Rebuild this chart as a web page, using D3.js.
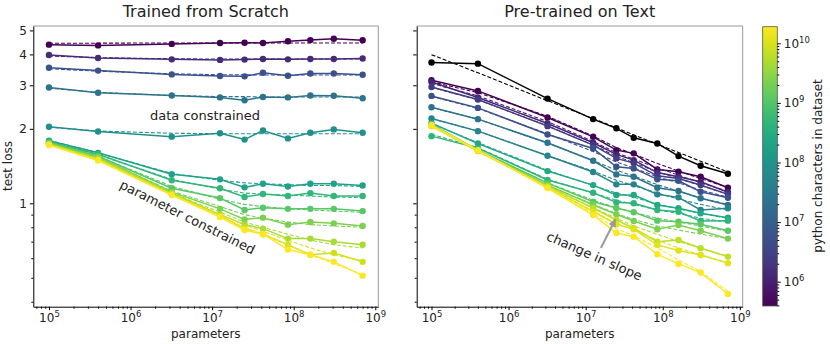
<!DOCTYPE html>
<html>
<head>
<meta charset="utf-8">
<script src="https://cdn.jsdelivr.net/npm/d3@7"></script>
<style>
  body { margin: 0; background: #fff; }
  text { font-family: "DejaVu Sans", sans-serif; fill: #222; }
</style>
</head>
<body>
<svg id="chart" width="830" height="344"></svg>
<script>
// model sizes (x axis), shared by both panels
const params = [1e5, 4e5, 3.2e6, 1.25e7, 2.5e7, 4.2e7, 8.5e7, 1.6e8, 3.1e8, 7e8];

// left panel: trained from scratch
const scratchChars = [3.9e5, 1.43e6, 5.8e6, 2.4e7, 8.6e7, 2.0e8, 4.8e8, 1.15e9, 2.2e9, 4.7e9, 8.9e9, 1.9e10];
const scratchLoss = [
  [4.38, 4.35, 4.41, 4.45, 4.46, 4.45, 4.52, 4.57, 4.63, 4.56],
  [3.98, 3.87, 3.82, 3.80, 3.81, 3.83, 3.82, 3.83, 3.83, 3.85],
  [3.53, 3.44, 3.32, 3.27, 3.26, 3.37, 3.28, 3.35, 3.35, 3.31],
  [2.94, 2.80, 2.73, 2.68, 2.61, 2.69, 2.68, 2.73, 2.72, 2.66],
  [2.04, 1.95, 1.86, 1.92, 1.81, 1.97, 1.83, 1.93, 1.99, 1.93],
  [1.79, 1.60, 1.31, 1.25, 1.16, 1.20, 1.17, 1.20, 1.20, 1.18],
  [1.77, 1.58, 1.24, 1.15, 1.06, 1.09, 1.07, 1.10, 1.07, 1.07],
  [1.76, 1.55, 1.15, 1.05, 0.94, 0.96, 0.95, 0.95, 0.95, 0.93],
  [1.75, 1.54, 1.11, 0.95, 0.86, 0.875, 0.82, 0.84, 0.83, 0.81],
  [1.735, 1.52, 1.10, 0.90, 0.82, 0.79, 0.72, 0.72, 0.70, 0.68],
  [1.73, 1.505, 1.09, 0.89, 0.79, 0.75, 0.68, 0.62, 0.63, 0.58],
  [1.72, 1.49, 1.08, 0.88, 0.78, 0.75, 0.65, 0.62, 0.58, 0.51]
];
const scratchFit = [
  [4.44, 4.44, 4.45, 4.45, 4.45, 4.45, 4.45, 4.45, 4.45, 4.45],
  [3.94, 3.88, 3.84, 3.83, 3.83, 3.83, 3.83, 3.83, 3.83, 3.83],
  [3.50, 3.42, 3.34, 3.31, 3.31, 3.30, 3.30, 3.30, 3.30, 3.30],
  [2.92, 2.81, 2.73, 2.70, 2.70, 2.69, 2.69, 2.69, 2.69, 2.69],
  [2.03, 1.96, 1.92, 1.91, 1.91, 1.91, 1.91, 1.91, 1.91, 1.91],
  [1.80, 1.60, 1.32, 1.24, 1.21, 1.20, 1.19, 1.18, 1.18, 1.17],
  [1.78, 1.57, 1.25, 1.14, 1.10, 1.09, 1.08, 1.07, 1.06, 1.055],
  [1.77, 1.55, 1.17, 1.04, 0.99, 0.97, 0.95, 0.94, 0.93, 0.92],
  [1.76, 1.53, 1.12, 0.97, 0.90, 0.87, 0.84, 0.82, 0.81, 0.80],
  [1.74, 1.51, 1.10, 0.92, 0.84, 0.80, 0.75, 0.71, 0.68, 0.66],
  [1.73, 1.50, 1.09, 0.90, 0.82, 0.77, 0.71, 0.66, 0.62, 0.585],
  [1.72, 1.49, 1.08, 0.89, 0.80, 0.75, 0.68, 0.62, 0.57, 0.515]
];

// right panel: pre-trained on text
const textChars = [3.9e5, 1.15e6, 2.5e6, 5.8e6, 2.4e7, 5.0e7, 2.5e8, 4.3e8, 1.26e9, 2.2e9, 6.5e9, 1.1e10, 1.9e10];
const textLoss = [
  [3.146, 2.847, 2.223, 1.857, 1.641, 1.592, 1.371, 1.341, 1.28, 1.156],
  [3.095, 2.678, 2.103, 1.757, 1.577, 1.495, 1.331, 1.28, 1.222, 1.108],
  [2.954, 2.629, 2.051, 1.719, 1.519, 1.454, 1.292, 1.259, 1.185, 1.087],
  [2.718, 2.431, 1.898, 1.667, 1.405, 1.384, 1.25, 1.234, 1.114, 1.053],
  [2.447, 2.189, 1.757, 1.486, 1.309, 1.28, 1.156, 1.121, 1.048, 0.984],
  [2.203, 1.958, 1.556, 1.338, 1.193, 1.193, 1.087, 1.057, 0.94, 0.955],
  [2.109, 1.746, 1.35, 1.185, 1.08, 1.08, 0.984, 0.955, 0.911, 0.875],
  [1.869, 1.672, 1.242, 1.104, 1.009, 1.0, 0.94, 0.925, 0.848, 0.851],
  [2.089, 1.641, 1.207, 1.015, 0.957, 0.92, 0.851, 0.843, 0.823, 0.775],
  [2.07, 1.641, 1.185, 0.984, 0.903, 0.848, 0.785, 0.817, 0.775, 0.72],
  [2.07, 1.626, 1.174, 0.955, 0.856, 0.793, 0.70, 0.711, 0.658, 0.609],
  [2.051, 1.626, 1.163, 0.925, 0.823, 0.785, 0.679, 0.644, 0.618, 0.573],
  [2.07, 1.641, 1.153, 0.897, 0.759, 0.733, 0.623, 0.569, 0.525, 0.43]
];
const textFit = [
  [3.10, 2.80, 2.25, 1.87, 1.68, 1.58, 1.45, 1.35, 1.26, 1.16],
  [3.05, 2.72, 2.14, 1.78, 1.60, 1.51, 1.39, 1.30, 1.21, 1.12],
  [2.94, 2.62, 2.06, 1.72, 1.55, 1.46, 1.34, 1.26, 1.18, 1.09],
  [2.70, 2.42, 1.91, 1.62, 1.47, 1.39, 1.28, 1.21, 1.13, 1.06],
  [2.44, 2.19, 1.75, 1.49, 1.36, 1.29, 1.19, 1.12, 1.05, 0.99],
  [2.20, 1.96, 1.56, 1.35, 1.24, 1.18, 1.10, 1.04, 0.99, 0.94],
  [2.10, 1.76, 1.36, 1.18, 1.10, 1.06, 0.99, 0.95, 0.91, 0.87],
  [1.90, 1.68, 1.25, 1.10, 1.03, 0.99, 0.94, 0.91, 0.87, 0.84],
  [2.08, 1.64, 1.21, 1.03, 0.96, 0.92, 0.87, 0.84, 0.81, 0.77],
  [2.06, 1.63, 1.18, 0.99, 0.91, 0.86, 0.81, 0.78, 0.75, 0.72],
  [2.06, 1.62, 1.17, 0.96, 0.87, 0.81, 0.75, 0.70, 0.66, 0.61],
  [2.05, 1.62, 1.16, 0.93, 0.83, 0.78, 0.71, 0.66, 0.62, 0.575],
  [2.06, 1.63, 1.15, 0.91, 0.79, 0.74, 0.66, 0.59, 0.53, 0.44]
];
// black curve: text-only (zero-shot) loss
const textOnlyLoss = [3.71, 3.67, 2.65, 2.19, 2.01, 1.84, 1.746, 1.552, 1.418, 1.317];
const textOnlyFit = [3.99, 3.37, 2.60, 2.20, 2.02, 1.89, 1.735, 1.605, 1.48, 1.338];

// ticks
const xMajor = [1e5, 1e6, 1e7, 1e8, 1e9];
const yMajor = [1, 2, 3, 4, 5];
const yMinor = [0.4, 0.5, 0.6, 0.7, 0.8, 0.9];
const cbarMajor = [1e6, 1e7, 1e8, 1e9, 1e10];

const svg = d3.select('#chart');
const axTop = 26, axBottom = 306.7;
const xDomain = [Math.pow(10, 4.808), Math.pow(10, 9.037)];
const y = d3.scaleLog().domain([0.382, 5.21]).range([axBottom, axTop]);
const cDomain = [Math.pow(10, 5.592), Math.pow(10, 10.279)];
const cNorm = d3.scaleLog().domain(cDomain).range([0, 1]);
const color = d => d3.interpolateViridis(cNorm(d));
const defs = svg.append('defs');

function minorTicks(domain) {
  const out = [];
  for (let e = Math.floor(Math.log10(domain[0])); e <= Math.ceil(Math.log10(domain[1])); e++) {
    for (let m = 2; m <= 9; m++) {
      const v = m * Math.pow(10, e);
      if (v >= domain[0] && v <= domain[1]) out.push(v);
    }
  }
  return out;
}

function supLabel(sel, size) {
  sel.selectAll('.tick text').each(function(d) {
    const t = d3.select(this).text(null);
    t.append('tspan').text('10');
    t.append('tspan').attr('dy', -5).attr('font-size', size).text(Math.round(Math.log10(d)));
  });
}

function panel(x0, x1, title, showYLabels) {
  const x = d3.scaleLog().domain(xDomain).range([x0, x1]);

  // spines
  svg.append('line').attr('x1', x0).attr('x2', x1).attr('y1', axTop).attr('y2', axTop)
    .attr('stroke', '#999').attr('stroke-width', 1);
  svg.append('line').attr('x1', x1).attr('x2', x1).attr('y1', axTop).attr('y2', axBottom)
    .attr('stroke', '#999').attr('stroke-width', 1);

  // x axis
  svg.append('g').attr('transform', `translate(0,${axBottom})`)
    .call(d3.axisBottom(x).tickValues(minorTicks(xDomain)).tickSize(2).tickFormat('').tickSizeOuter(0))
    .call(g => g.select('.domain').remove());
  const gx = svg.append('g').attr('transform', `translate(0,${axBottom})`)
    .call(d3.axisBottom(x).tickValues(xMajor).tickSize(3.5).tickPadding(3).tickSizeOuter(0));
  gx.selectAll('.tick text').attr('font-size', 12).attr('font-family', 'DejaVu Sans');
  supLabel(gx, 8.5);

  // y axis
  svg.append('g').attr('transform', `translate(${x0},0)`)
    .call(d3.axisLeft(y).tickValues(yMinor).tickSize(2).tickFormat('').tickSizeOuter(0))
    .call(g => g.select('.domain').remove());
  const gy = svg.append('g').attr('transform', `translate(${x0},0)`)
    .call(d3.axisLeft(y).tickValues(yMajor).tickSize(3.5).tickPadding(3)
      .tickFormat(showYLabels ? d3.format('d') : '').tickSizeOuter(0));
  gy.selectAll('.tick text').attr('font-size', 12).attr('font-family', 'DejaVu Sans');

  svg.append('text').attr('x', (x0 + x1) / 2).attr('y', 17).attr('text-anchor', 'middle')
    .attr('font-size', 16).text(title);
  svg.append('text').attr('x', (x0 + x1) / 2).attr('y', 338).attr('text-anchor', 'middle')
    .attr('font-size', 12).text('parameters');
  return x;
}

function drawSeries(x, values, fit, stroke) {
  const line = d3.line().x((d, i) => x(params[i])).y(d => y(d));
  svg.append('path').datum(fit).attr('d', line).attr('fill', 'none')
    .attr('stroke', stroke).attr('stroke-width', 1.1).attr('stroke-dasharray', '4,2');
  svg.append('path').datum(values).attr('d', line).attr('fill', 'none')
    .attr('stroke', stroke).attr('stroke-width', 1.5);
  svg.append('g').selectAll('circle').data(values).join('circle')
    .attr('cx', (d, i) => x(params[i])).attr('cy', d => y(d)).attr('r', 3.2)
    .attr('fill', stroke);
}

// left panel
const xL = panel(33.3, 378.3, 'Trained from Scratch', true);
scratchLoss.forEach((s, k) => drawSeries(xL, s, scratchFit[k], color(scratchChars[k])));

svg.append('text').attr('transform', 'translate(12,166) rotate(-90)').attr('text-anchor', 'middle')
  .attr('font-size', 12).text('test loss');
svg.append('text').attr('x', 205).attr('y', 120).attr('text-anchor', 'middle')
  .attr('font-size', 13).attr('fill', '#333').text('data constrained');
svg.append('text').attr('transform', 'translate(187,218) rotate(26.6)').attr('text-anchor', 'middle')
  .attr('dominant-baseline', 'middle').attr('font-size', 13).attr('fill', '#333').text('parameter constrained');

// right panel
const xR = panel(416.7, 742.7, 'Pre-trained on Text', false);
textLoss.forEach((s, k) => drawSeries(xR, s, textFit[k], color(textChars[k])));
drawSeries(xR, textOnlyLoss, textOnlyFit, '#000');

// change in slope annotation
defs.append('marker').attr('id', 'arrow').attr('viewBox', '0 0 10 10')
  .attr('refX', 9).attr('refY', 5).attr('markerWidth', 4).attr('markerHeight', 4).attr('orient', 'auto')
  .append('path').attr('d', 'M0,0 L10,5 L0,10 z').attr('fill', '#9a9a9a');
svg.append('line').attr('x1', xR(1.6e7) - 0.5).attr('y1', 248).attr('x2', xR(2.5e7) - 1).attr('y2', y(0.86))
  .attr('stroke', '#9a9a9a').attr('stroke-width', 2).attr('marker-end', 'url(#arrow)');
svg.append('text').attr('transform', 'translate(594,257) rotate(23.6)').attr('text-anchor', 'middle')
  .attr('dominant-baseline', 'middle').attr('font-size', 13).attr('fill', '#333').text('change in slope');

// colorbar
const cb = { x: 762.7, w: 14.6 };
const cy = d3.scaleLog().domain(cDomain).range([306, 26.7]);
const grad = defs.append('linearGradient').attr('id', 'viridis')
  .attr('x1', 0).attr('y1', 1).attr('x2', 0).attr('y2', 0);
d3.range(0, 1.0001, 0.05).forEach(t => grad.append('stop').attr('offset', t).attr('stop-color', d3.interpolateViridis(t)));
svg.append('rect').attr('x', cb.x).attr('y', 26.7).attr('width', cb.w).attr('height', 306 - 26.7)
  .attr('fill', 'url(#viridis)').attr('stroke', '#555').attr('stroke-width', 0.8);
svg.append('g').attr('transform', `translate(${cb.x + cb.w},0)`)
  .call(d3.axisRight(cy).tickValues(minorTicks(cDomain)).tickSize(2).tickFormat('').tickSizeOuter(0))
  .call(g => g.select('.domain').remove());
const gc = svg.append('g').attr('transform', `translate(${cb.x + cb.w},0)`)
  .call(d3.axisRight(cy).tickValues(cbarMajor).tickSize(3.5).tickPadding(3).tickSizeOuter(0))
  .call(g => g.select('.domain').remove());
gc.selectAll('.tick text').attr('font-size', 12).attr('font-family', 'DejaVu Sans');
supLabel(gc, 8.5);
svg.append('text').attr('transform', 'translate(822,166) rotate(-90)').attr('text-anchor', 'middle')
  .attr('font-size', 12).text('python characters in dataset');
</script>
</body>
</html>
